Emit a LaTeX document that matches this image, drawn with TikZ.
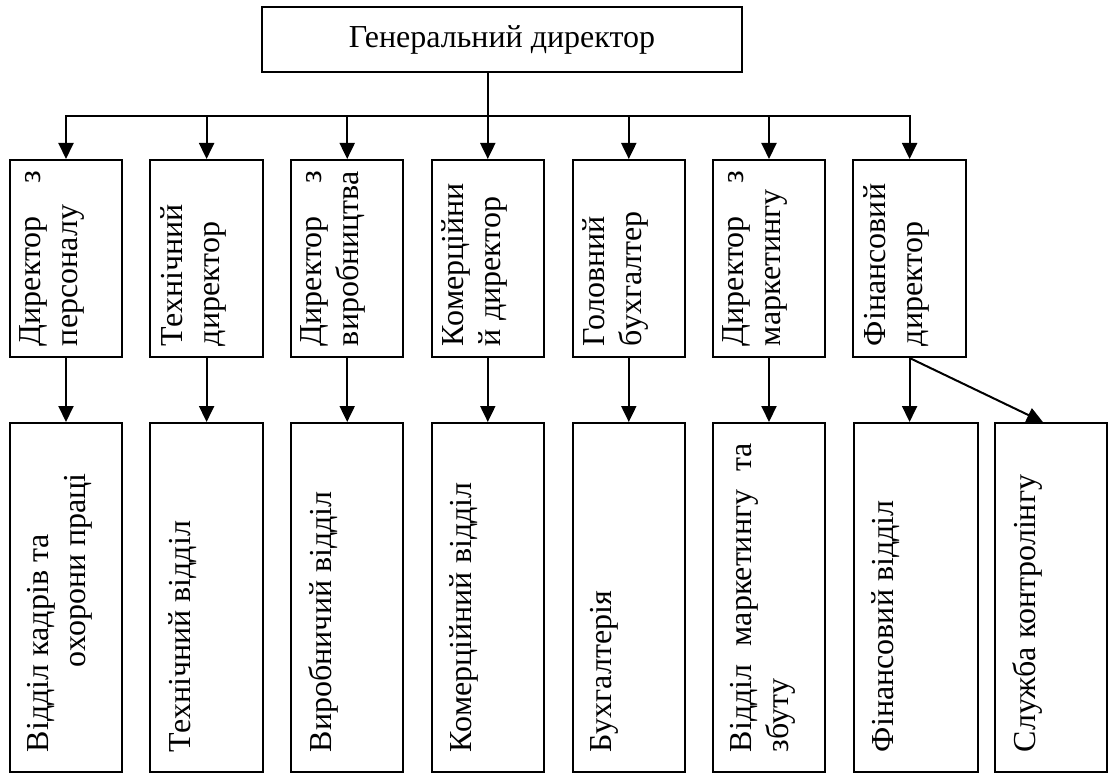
\documentclass[tikz,border=0pt]{standalone}
\usepackage{fontspec}
\setmainfont{Liberation Serif}
\usepackage{graphicx}
\usetikzlibrary{arrows.meta}

\newcommand{\vertlabel}[3]{\rotatebox{90}{\parbox[c][#1][t]{#2}{#3}}}

\begin{document}
\begin{tikzpicture}[x=1pt,y=-1pt]\tikzstyle{every node}=[font=\fontsize{32}{37}\selectfont]
\tikzstyle{director}=[draw, line width=2pt, inner xsep=10pt, inner ysep=11pt]
\tikzstyle{department}=[draw, line width=2pt, inner xsep=18pt, inner ysep=20pt]
\tikzstyle{arr}=[line width=2pt, -{Triangle[length=16pt,width=15pt]}]
\useasboundingbox (0,0) rectangle (1108,773);
% general director
  \node[draw, line width=2pt, minimum width=480pt, minimum height=65pt] (gd) at (502,39.5) {Генеральний директор};
% directors
  \node[director] (m1) at (66,258.5) {\vertlabel{92.5pt}{175pt}{Директор\hfill з\\персоналу}};
  \node[director] (m2) at (206.6,258.5) {\vertlabel{92.5pt}{175pt}{Технічний\\директор}};
  \node[director] (m3) at (347.2,258.5) {\vertlabel{92.5pt}{175pt}{Директор\hfill з\\виробництва}};
  \node[director] (m4) at (487.8,258.5) {\vertlabel{92.5pt}{175pt}{Комерційни\\й директор}};
  \node[director] (m5) at (628.8,258.5) {\vertlabel{92.5pt}{175pt}{Головний\\бухгалтер}};
  \node[director] (m6) at (769,258.5) {\vertlabel{92.5pt}{175pt}{Директор\hfill з\\маркетингу}};
  \node[director] (m7) at (909.6,258.5) {\vertlabel{92.5pt}{175pt}{Фінансовий\\директор}};
% departments
  \node[department] (b1) at (66,597.5) {\vertlabel{76.5pt}{309pt}{Відділ кадрів та\\\hspace*{85pt}охорони праці}};
  \node[department] (b2) at (206.6,597.5) {\vertlabel{76.5pt}{309pt}{Технічний відділ}};
  \node[department] (b3) at (347.2,597.5) {\vertlabel{76.5pt}{309pt}{Виробничий відділ}};
  \node[department] (b4) at (487.8,597.5) {\vertlabel{76.5pt}{309pt}{Комерційний відділ}};
  \node[department] (b5) at (628.8,597.5) {\vertlabel{76.5pt}{309pt}{Бухгалтерія}};
  \node[department] (b6) at (769,597.5) {\vertlabel{76.5pt}{309pt}{Відділ\hfill маркетингу\hfill та\\збуту}};
  \node[department] (b7) at (915.9,597.5) {\vertlabel{88.3pt}{309pt}{Фінансовий відділ}};
  \node[department] (b8) at (1050.9,597.5) {\vertlabel{76.3pt}{309pt}{Служба контролінгу}};
% connectors
  \coordinate (bus) at (0,116);
  \draw[line width=2pt, line cap=rect] (bus -| m1.north) -- (bus -| m7.north);
  \draw[line width=2pt] (gd.south -| m4.north) -- (bus -| m4.north);
  \foreach \n in {1,...,7}
    \draw[arr] (bus -| m\n.north) -- (m\n.north);
  \foreach \n in {1,...,7}
    \draw[arr] (m\n.south) -- (m\n.south |- b\n.north);
  \draw[arr] (m7.south) -- ([xshift=-8pt]b8.north);
\end{tikzpicture}
\end{document}
